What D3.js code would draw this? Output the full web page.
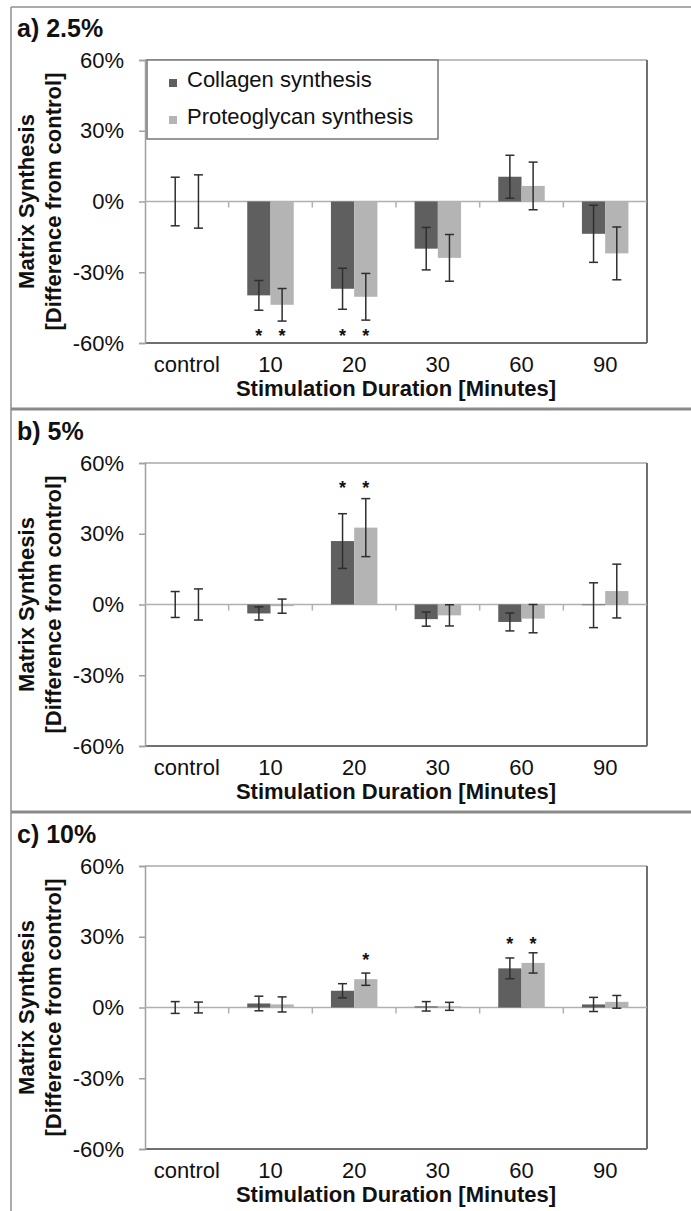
<!DOCTYPE html>
<html>
<head>
<meta charset="utf-8">
<script src="https://cdn.jsdelivr.net/npm/d3@7"></script>
<style>
  body { margin: 0; background: #fff; }
  text { font-family: Arial, "Liberation Sans", sans-serif; fill: #111; }
</style>
</head>
<body>
<script>
// Matrix synthesis vs stimulation duration, three strain levels

const categories = ['control', '10', '20', '30', '60', '90'];
const seriesNames = ['Collagen synthesis', 'Proteoglycan synthesis'];
const yTicks = [-60, -30, 0, 30, 60];

// a) 2.5%
const collagenA = [0, -39.8, -37.0, -20.0, 10.5, -13.7];
const collagenErrA = [10.3, 6.3, 8.7, 9.0, 9.1, 12.1];
const proteoA = [0, -43.8, -40.4, -23.9, 6.6, -22.0];
const proteoErrA = [11.3, 6.9, 9.9, 9.9, 10.1, 11.2];
const starsA = [[1, 0, -55.5], [1, 1, -55.5], [2, 0, -55.5], [2, 1, -55.5]];

// b) 5%
const collagenB = [0, -3.8, 26.9, -6.2, -7.4, -0.3];
const collagenErrB = [5.5, 2.8, 11.6, 3.0, 3.8, 9.5];
const proteoB = [0, -0.7, 32.6, -4.6, -6.0, 5.7];
const proteoErrB = [6.6, 3.0, 12.3, 4.5, 6.0, 11.4];
const starsB = [[2, 0, 51], [2, 1, 51]];

// c) 10%
const collagenC = [0, 1.7, 7.1, 0.5, 16.6, 1.3];
const collagenErrC = [2.5, 3.1, 3.0, 2.0, 4.4, 3.0];
const proteoC = [0, 1.3, 12.0, 0.5, 18.9, 2.4];
const proteoErrC = [2.3, 3.2, 2.6, 1.7, 4.3, 2.7];
const starsC = [[2, 1, 21.7], [4, 0, 28.8], [4, 1, 28.8]];

const panels = [
    { label: 'a) 2.5%', top: 0, vals: [collagenA, proteoA], errs: [collagenErrA, proteoErrA], stars: starsA, legend: true },
    { label: 'b) 5%', top: 403, vals: [collagenB, proteoB], errs: [collagenErrB, proteoErrB], stars: starsB, legend: false },
    { label: 'c) 10%', top: 806, vals: [collagenC, proteoC], errs: [collagenErrC, proteoErrC], stars: starsC, legend: false }
];

const colors = ['#5f5f5f', '#b4b4b4'];
const width = 691;
const height = 1211;
const left = 145, right = 647;
const font = 'Arial, "Liberation Sans", sans-serif';

const svg = d3.select('body').append('svg')
    .attr('width', width)
    .attr('height', height);

// outer frame and separators
svg.append('line').attr('x1', 11).attr('x2', 11).attr('y1', 7).attr('y2', height)
    .attr('stroke', '#8f8f8f').attr('stroke-width', 1.5);
svg.append('line').attr('x1', 11).attr('x2', width).attr('y1', 7).attr('y2', 7)
    .attr('stroke', '#8f8f8f').attr('stroke-width', 1.5);
[409, 812].forEach(y => {
    svg.append('line').attr('x1', 11).attr('x2', width).attr('y1', y).attr('y2', y)
        .attr('stroke', '#8a8a8a').attr('stroke-width', 3);
});

const x = d3.scaleBand().domain(categories).range([left, right]);
const xs = d3.scaleBand().domain(seriesNames).range([0, x.bandwidth()]).paddingOuter(0.8);

panels.forEach(p => {
    const top = p.top + 60, bottom = p.top + 343;
    const y = d3.scaleLinear().domain([-60, 60]).range([bottom, top]);
    const g = svg.append('g');

    // panel title
    g.append('text')
        .attr('x', 17).attr('y', p.top + 37)
        .attr('font-size', 25).attr('font-weight', 'bold')
        .text(p.label);

    // plot border: light top/left, darker right/bottom
    g.append('line').attr('x1', left).attr('x2', right).attr('y1', top).attr('y2', top)
        .attr('stroke', '#a8a8a8').attr('stroke-width', 1.5);
    g.append('line').attr('x1', right).attr('x2', right).attr('y1', top).attr('y2', bottom)
        .attr('stroke', '#707070').attr('stroke-width', 2);
    g.append('line').attr('x1', left).attr('x2', right).attr('y1', bottom).attr('y2', bottom)
        .attr('stroke', '#707070').attr('stroke-width', 2);

    // y axis
    const yAxis = g.append('g')
        .attr('transform', 'translate(' + left + ',0)')
        .call(d3.axisLeft(y).tickValues(yTicks).tickSize(6).tickPadding(15)
            .tickFormat(d => d + '%'));
    yAxis.select('.domain').attr('stroke', '#a0a0a0').attr('stroke-width', 1.5);
    yAxis.selectAll('.tick line').attr('stroke', '#a0a0a0').attr('stroke-width', 1.5);
    yAxis.selectAll('.tick text').attr('font-size', 22).attr('font-family', font).attr('fill', '#111');

    // x labels along the bottom
    const xAxis = g.append('g')
        .attr('transform', 'translate(0,' + bottom + ')')
        .call(d3.axisBottom(x).tickSize(0).tickPadding(13));
    xAxis.select('.domain').remove();
    xAxis.selectAll('.tick text').attr('font-size', 22).attr('font-family', font).attr('fill', '#111');

    // zero line with category boundary ticks
    g.append('line').attr('x1', left).attr('x2', right).attr('y1', y(0)).attr('y2', y(0))
        .attr('stroke', '#b0b0b0').attr('stroke-width', 1.5);
    g.selectAll('.bound')
        .data(categories.slice(1))
        .enter().append('line')
        .attr('x1', d => x(d)).attr('x2', d => x(d))
        .attr('y1', y(0)).attr('y2', y(0) + 6)
        .attr('stroke', '#b0b0b0').attr('stroke-width', 1.5);

    // bars
    seriesNames.forEach((s, si) => {
        const rows = categories.map((c, i) => ({ c: c, v: p.vals[si][i], e: p.errs[si][i] }));
        g.selectAll('.bar' + si)
            .data(rows.filter(d => d.v !== 0))
            .enter().append('rect')
            .attr('x', d => x(d.c) + xs(s))
            .attr('width', xs.bandwidth())
            .attr('y', d => y(Math.max(0, d.v)))
            .attr('height', d => Math.abs(y(d.v) - y(0)))
            .attr('fill', colors[si]);

        const cx = d => x(d.c) + xs(s) + xs.bandwidth() / 2;
        const eb = g.selectAll('.err' + si).data(rows).enter().append('g')
            .attr('stroke', '#2e2e2e').attr('stroke-width', 1.5);
        eb.append('line').attr('x1', cx).attr('x2', cx)
            .attr('y1', d => y(d.v + d.e)).attr('y2', d => y(d.v - d.e));
        eb.append('line').attr('x1', d => cx(d) - 4.5).attr('x2', d => cx(d) + 4.5)
            .attr('y1', d => y(d.v + d.e)).attr('y2', d => y(d.v + d.e));
        eb.append('line').attr('x1', d => cx(d) - 4.5).attr('x2', d => cx(d) + 4.5)
            .attr('y1', d => y(d.v - d.e)).attr('y2', d => y(d.v - d.e));
    });

    // significance stars
    g.selectAll('.star')
        .data(p.stars)
        .enter().append('text')
        .attr('x', d => x(categories[d[0]]) + xs(seriesNames[d[1]]) + xs.bandwidth() / 2)
        .attr('y', d => y(d[2]) + 10)
        .attr('text-anchor', 'middle')
        .attr('font-size', 18).attr('font-weight', 'bold')
        .text('*');

    // y axis title (two lines)
    const yt = g.append('g')
        .attr('transform', 'translate(0,' + y(0) + ') rotate(-90)');
    yt.append('text').attr('x', 0).attr('y', 34)
        .attr('text-anchor', 'middle').attr('font-size', 22).attr('font-weight', 'bold')
        .text('Matrix Synthesis');
    yt.append('text').attr('x', 0).attr('y', 61)
        .attr('text-anchor', 'middle').attr('font-size', 22).attr('font-weight', 'bold')
        .text('[Difference from control]');

    // x axis title
    g.append('text')
        .attr('x', (left + right) / 2).attr('y', bottom + 53)
        .attr('text-anchor', 'middle').attr('font-size', 22).attr('font-weight', 'bold')
        .text('Stimulation Duration [Minutes]');

    // legend only in the first panel
    if (p.legend) {
        const lg = g.append('g');
        lg.append('rect')
            .attr('x', 147).attr('y', top).attr('width', 291).attr('height', 79)
            .attr('fill', '#fff').attr('stroke', '#777').attr('stroke-width', 1.5);
        seriesNames.forEach((s, si) => {
            const by = top + 27 + si * 37;
            lg.append('rect')
                .attr('x', 169).attr('y', by - 8).attr('width', 8).attr('height', 8)
                .attr('fill', colors[si]);
            lg.append('text')
                .attr('x', 187).attr('y', by)
                .attr('font-size', 22)
                .text(s);
        });
    }
});
</script>
</body>
</html>
